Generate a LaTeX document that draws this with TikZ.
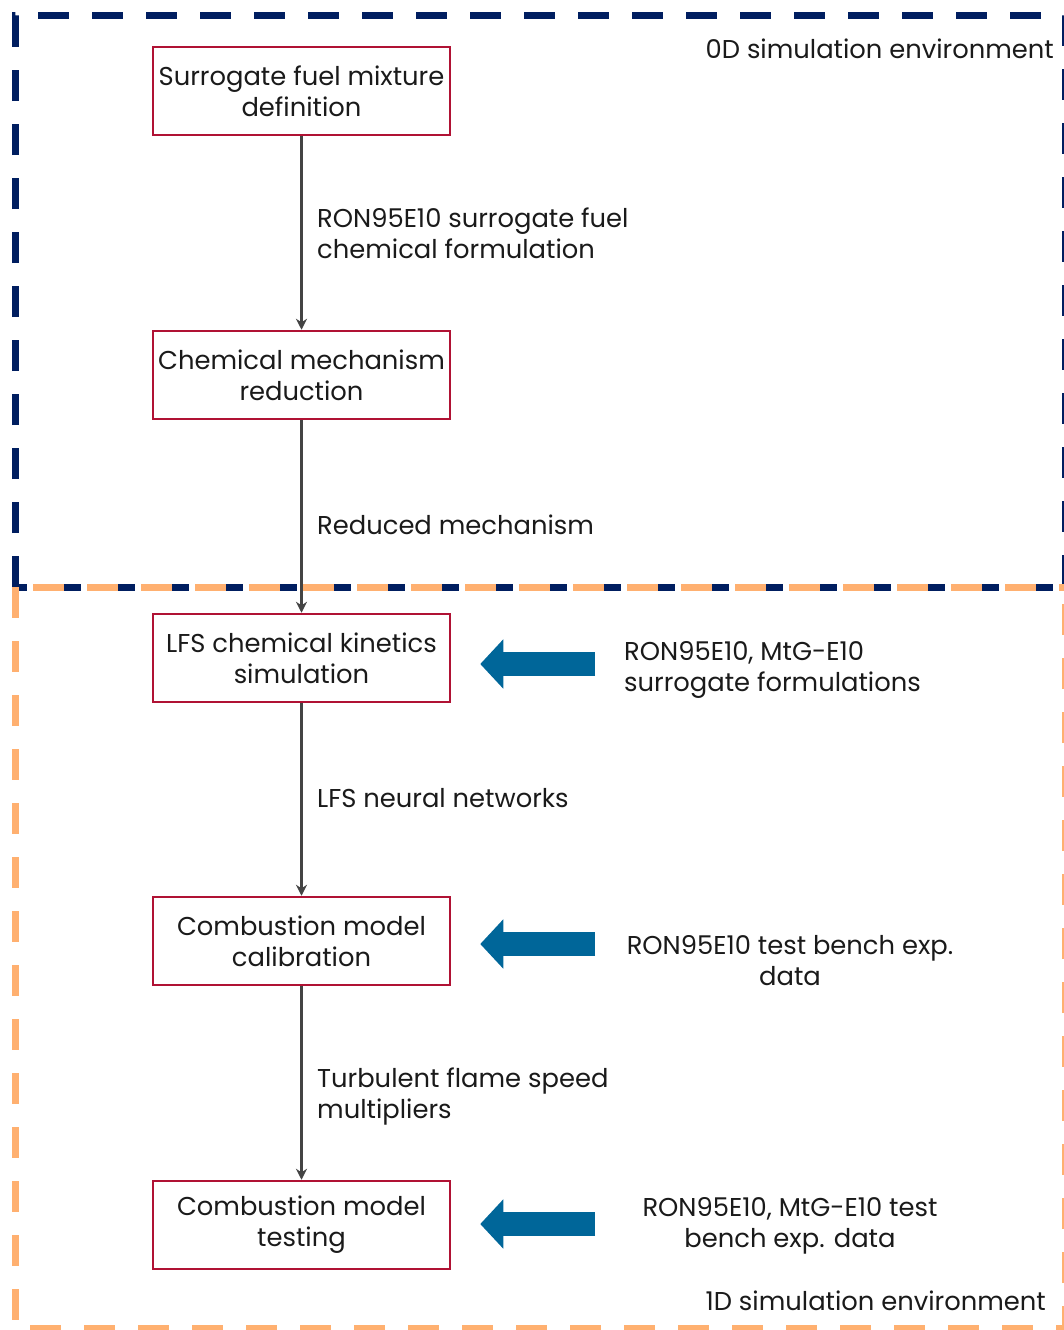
\documentclass[tikz,border=0pt]{standalone}
\usepackage{fontspec}
\setmainfont{Poppins}
\usetikzlibrary{arrows.meta}

\definecolor{navy}{RGB}{0,30,96}
\definecolor{peach}{RGB}{255,176,112}
\definecolor{boxred}{RGB}{176,18,52}
\definecolor{flowgray}{RGB}{68,68,68}
\definecolor{inblue}{RGB}{0,102,153}
\definecolor{ink}{RGB}{26,26,26}

\newcommand\diagfont{\fontsize{25.8}{31}\selectfont}

\tikzset{
  navyframe/.style={draw=navy, line width=7pt, dash pattern=on 31pt off 23pt},
  peachframe/.style={draw=peach, line width=7pt, dash pattern=on 31pt off 23pt},
  stepbox/.style={draw=boxred, line width=2.5pt, minimum width=297pt, minimum height=88pt,
    align=center, inner sep=0pt, text=ink, font=\diagfont},
  flowlabel/.style={anchor=west, align=left, inner sep=0pt, text=ink, font=\diagfont},
  inlabel/.style={align=center, inner sep=0pt, text=ink, font=\diagfont},
  envlabel/.style={anchor=east, inner sep=0pt, text=ink, font=\diagfont},
  flow/.style={draw=flowgray, line width=3pt, -{Stealth[length=11pt,width=11pt]}},
  feed/.style={draw=inblue, line width=24pt, -{Triangle[length=23pt,width=48pt]}},
}

\begin{document}
\begin{tikzpicture}[x=1pt,y=-1pt]
\useasboundingbox (0,0) rectangle (1064,1330);

% 0D environment frame
\draw[navyframe] (15,587) -- (15,16) -- (1065,16) -- (1065,587);
\draw[navyframe, dash phase=19pt] (15,587) -- (1065,587);
% 1D environment frame
\draw[peachframe, dash phase=-18pt] (15,587) -- (1065,587);
\draw[peachframe] (15,587) -- (15,1328) -- (1065,1328) -- (1065,587);

\node[envlabel] (env0) at (1054,49) {0D simulation environment};
\node[envlabel] (env1) at (1046,1301) {1D simulation environment};

% process steps
\node[stepbox] (s1) at (301.5,91) {Surrogate fuel mixture\\definition};
\node[stepbox] (s2) at (301.5,375) {Chemical mechanism\\reduction};
\node[stepbox] (s3) at (301.5,658) {LFS chemical kinetics\\simulation};
\node[stepbox] (s4) at (301.5,941) {Combustion model\\calibration};
\node[stepbox] (s5) at (301.5,1225) {Combustion model\\testing};

\draw[flow] (s1) -- (s2);
\draw[flow] (s2) -- (s3);
\draw[flow] (s3) -- (s4);
\draw[flow] (s4) -- (s5);

\node[flowlabel] (l1) at (317,233) {RON95E10 surrogate fuel\\chemical formulation};
\node[flowlabel] (l2) at (317,525) {Reduced mechanism};
\node[flowlabel] (l3) at (317,798) {LFS neural networks};
\node[flowlabel] (l4) at (317,1096) {Turbulent flame speed\\multipliers};

% external inputs
\node[flowlabel] (i1) at (624,670) {RON95E10, MtG-E10\\surrogate formulations};
\node[inlabel] (i2) at (790,961) {RON95E10 test bench exp.\\data};
\node[inlabel] (i3) at (790,1226) {RON95E10, MtG-E10 test\\bench exp. data};

\coordinate (a1) at (595,664);
\coordinate (a2) at (595,944);
\coordinate (a3) at (595,1224);
\draw[feed, shorten >=29pt] (a1) -- (a1 -| s3.east);
\draw[feed, shorten >=29pt] (a2) -- (a2 -| s4.east);
\draw[feed, shorten >=29pt] (a3) -- (a3 -| s5.east);
\end{tikzpicture}
\end{document}
